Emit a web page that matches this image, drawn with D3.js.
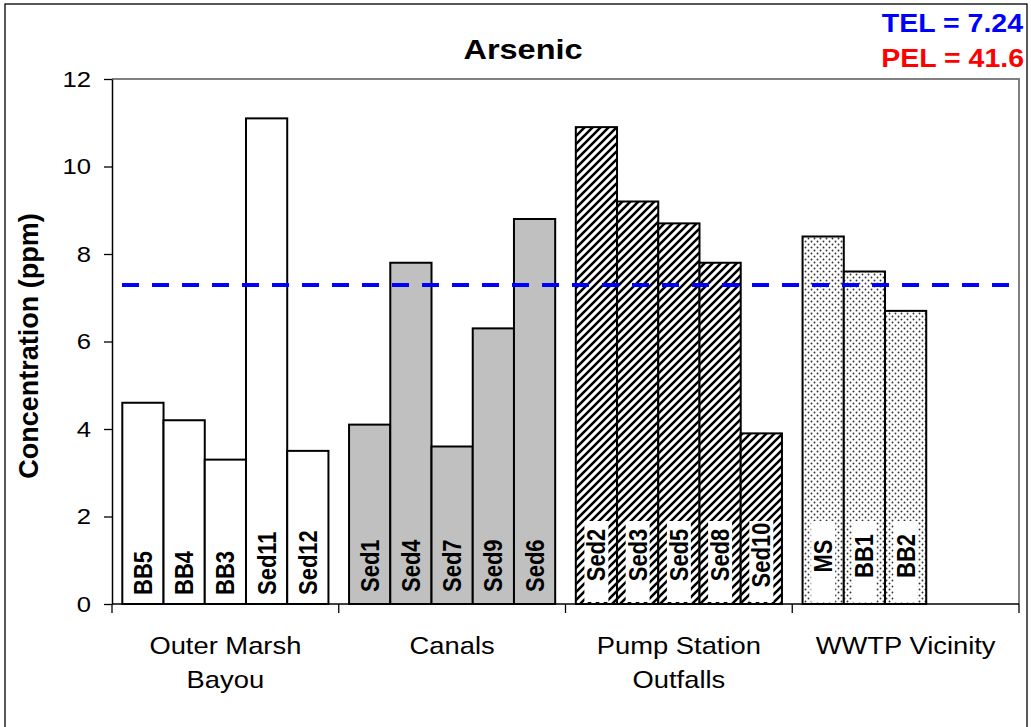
<!DOCTYPE html>
<html><head><meta charset="utf-8">
<script src="https://cdn.jsdelivr.net/npm/d3@7"></script>
<style>body{margin:0;background:#fff} svg{display:block;font-family:"Liberation Sans",Arial,sans-serif}</style>
</head><body><svg id="c" width="1031" height="727"></svg>
<script>
// ---- data ----
const groups = ["Outer Marsh|Bayou", "Canals", "Pump Station|Outfalls", "WWTP Vicinity"];
const outerMarshSites = ["BB5", "BB4", "BB3", "Sed11", "Sed12"];
const outerMarshValues = [4.6, 4.2, 3.3, 11.1, 3.5];
const canalSites = ["Sed1", "Sed4", "Sed7", "Sed9", "Sed6"];
const canalValues = [4.1, 7.8, 3.6, 6.3, 8.8];
const pumpSites = ["Sed2", "Sed3", "Sed5", "Sed8", "Sed10"];
const pumpValues = [10.9, 9.2, 8.7, 7.8, 3.9];
const wwtpSites = ["MS", "BB1", "BB2"];
const wwtpValues = [8.4, 7.6, 6.7];
const yTicks = [0, 2, 4, 6, 8, 10, 12];
const telLabel = "TEL = 7.24";
const pelLabel = "PEL = 41.6";
const telLevel = 7.29;   // dashed line level

// ---- layout ----
const SX = 1.14;
const svg = d3.select("#c");
const L = 112, R = 1019, T = 79, B = 604;

const defs = svg.append("defs");
const hatch = defs.append("pattern").attr("id", "hatch").attr("patternUnits", "userSpaceOnUse")
  .attr("width", 8).attr("height", 8);
hatch.append("rect").attr("width", 8).attr("height", 8).attr("fill", "#fff");
hatch.append("path").attr("d", "M-2,2 L2,-2 M0,8 L8,0 M6,10 L10,6")
  .attr("stroke", "#000").attr("stroke-width", 2.6);
const dots = defs.append("pattern").attr("id", "dots").attr("patternUnits", "userSpaceOnUse")
  .attr("width", 6).attr("height", 6);
dots.append("rect").attr("width", 6).attr("height", 6).attr("fill", "#fff");
dots.append("circle").attr("cx", 1.5).attr("cy", 1.5).attr("r", 0.95).attr("fill", "#333");
dots.append("circle").attr("cx", 4.5).attr("cy", 4.5).attr("r", 0.95).attr("fill", "#333");

const series = [
  { sites: outerMarshSites, values: outerMarshValues, fill: "#ffffff", box: false, labelY: 595, anchor: "start" },
  { sites: canalSites, values: canalValues, fill: "#c0c0c0", box: false, labelY: 592, anchor: "start" },
  { sites: pumpSites, values: pumpValues, fill: "url(#hatch)", box: true, labelY: 555, anchor: "middle" },
  { sites: wwtpSites, values: wwtpValues, fill: "url(#dots)", box: true, labelY: 556, anchor: "middle" }
];

// outer frame
svg.append("rect").attr("x", 5).attr("y", 4).attr("width", 1022).attr("height", 740)
  .attr("fill", "#fff").attr("stroke", "#000").attr("stroke-width", 1.3);

const x = d3.scaleBand().domain(groups).range([L, R]).padding(0);
const inner = d3.scaleBand().domain(d3.range(5)).range([0, x.bandwidth()]).paddingInner(0).paddingOuter(0.25);
const y = d3.scaleLinear().domain([0, 12]).range([B, T]);

// plot area border (grey, top & right)
svg.append("path").attr("d", `M${L},${T}H${R}V${B}`).attr("fill", "none")
  .attr("stroke", "#808080").attr("stroke-width", 2);

// bars
series.forEach((s, gi) => {
  const g0 = x(groups[gi]);
  const gg = svg.append("g");
  gg.selectAll("rect.bar").data(s.values).join("rect").attr("class", "bar")
    .attr("x", (d, i) => g0 + inner(i))
    .attr("y", d => y(d))
    .attr("width", inner.bandwidth())
    .attr("height", d => y(0) - y(d))
    .attr("fill", s.fill).attr("stroke", "#000").attr("stroke-width", 2);
  if (s.box) {
    gg.selectAll("rect.box").data(s.values).join("rect").attr("class", "box")
      .attr("x", (d, i) => g0 + inner(i) + inner.bandwidth() / 2 - 12)
      .attr("y", 521).attr("width", 24).attr("height", 81)
      .attr("fill", "#fff");
  }
  gg.selectAll("g.lab").data(s.sites).join("g").attr("class", "lab")
    .attr("transform", (d, i) => `translate(${g0 + inner(i) + inner.bandwidth() / 2},${s.labelY}) scale(${SX},1) rotate(-90)`)
    .append("text").attr("text-anchor", s.anchor).attr("dy", "0.36em")
    .attr("font-size", 22).attr("font-weight", "bold").attr("fill", "#000")
    .text(d => d);
});

// TEL dashed line
svg.append("line").attr("x1", L + 10).attr("x2", R - 6)
  .attr("y1", y(telLevel)).attr("y2", y(telLevel))
  .attr("stroke", "#0000ff").attr("stroke-width", 4).attr("stroke-dasharray", "17 13");

// y axis
const yAxis = svg.append("g").attr("transform", `translate(${L},0)`)
  .call(d3.axisLeft(y).tickValues(yTicks).tickSize(8).tickSizeOuter(0).tickFormat(d3.format("d")));
yAxis.select(".domain").attr("stroke", "#000").attr("stroke-width", 1.5);
yAxis.selectAll(".tick line").attr("stroke", "#000").attr("stroke-width", 1.3);
yAxis.selectAll(".tick text").attr("x", null)
  .attr("transform", `translate(-21,0) scale(${SX},1)`)
  .attr("font-size", 22.5).attr("font-family", "Liberation Sans, Arial, sans-serif").attr("fill", "#000");

// x axis
const bounds = groups.map(g => x(g)).concat([x.range()[1]]);
svg.append("line").attr("x1", L).attr("x2", R).attr("y1", B).attr("y2", B)
  .attr("stroke", "#000").attr("stroke-width", 1.5);
svg.selectAll("line.xt").data(bounds).join("line").attr("class", "xt")
  .attr("x1", d => d).attr("x2", d => d).attr("y1", B).attr("y2", B + 9)
  .attr("stroke", "#000").attr("stroke-width", 1.3);
const xl = svg.selectAll("g.xl").data(groups).join("g").attr("class", "xl")
  .attr("transform", d => `translate(${x(d) + x.bandwidth() / 2},654) scale(${SX},1)`);
xl.append("text").attr("text-anchor", "middle").attr("font-size", 24).attr("fill", "#000")
  .selectAll("tspan").data(d => d.split("|")).join("tspan")
  .attr("x", 0).attr("dy", (d, i) => i === 0 ? 0 : 34).text(d => d);

// title
svg.append("g").attr("transform", `translate(523,59) scale(${SX},1)`)
  .append("text").attr("text-anchor", "middle").attr("font-size", 28.5).attr("font-weight", "bold")
  .text("Arsenic");

// y title
svg.append("g").attr("transform", `translate(38,346) rotate(-90)`)
  .append("text").attr("text-anchor", "middle").attr("font-size", 27).attr("font-weight", "bold")
  .text("Concentration (ppm)");

// TEL / PEL labels
svg.append("g").attr("transform", `translate(1023,32) scale(${SX},1)`)
  .append("text").attr("text-anchor", "end").attr("font-size", 25).attr("font-weight", "bold")
  .attr("fill", "#0000ff").text(telLabel);
svg.append("g").attr("transform", `translate(1024,67) scale(${SX},1)`)
  .append("text").attr("text-anchor", "end").attr("font-size", 25).attr("font-weight", "bold")
  .attr("fill", "#ff0000").text(pelLabel);
</script></body></html>
